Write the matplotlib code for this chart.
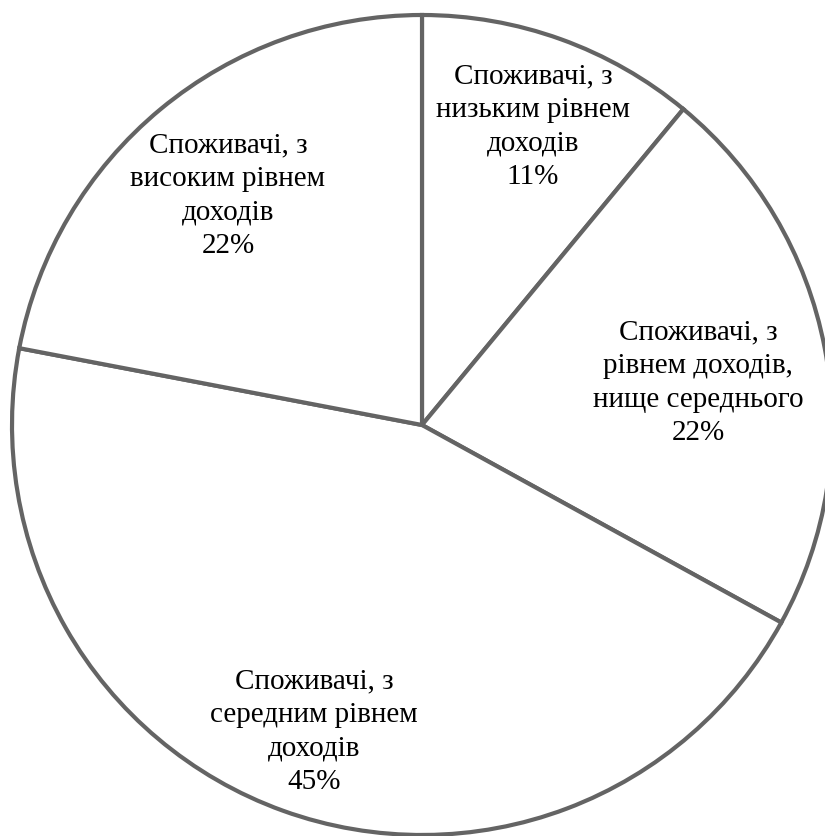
import matplotlib.pyplot as plt

labels = ['Споживачі, з\nнизьким рівнем\nдоходів',
          'Споживачі, з\nрівнем доходів,\nнище середнього',
          'Споживачі, з\nсередним рівнем\nдоходів',
          'Споживачі, з\nвисоким рівнем\nдоходів']
values = [11, 22, 45, 22]

# label centres in pixels (x, y from top)
label_px = [(533, 127), (698, 383), (314, 732), (228, 196)]

W, H = 825, 836
cx, cy, R = 422, 425, 410

fig = plt.figure(figsize=(W / 100, H / 100), dpi=100)
ax = fig.add_axes([0, 0, 1, 1])
ax.pie(values, startangle=90, counterclock=False, radius=1,
       colors=['white'] * 4,
       wedgeprops=dict(edgecolor='#646464', linewidth=3))

for lab, v, (px, py) in zip(labels, values, label_px):
    ax.text((px - cx) / R, (cy - py) / R, lab + '\n' + str(v) + '%',
            ha='center', va='center', fontsize=21, linespacing=1.38,
            family='Liberation Serif', color='black')

ax.set_xlim(-cx / R, (W - cx) / R)
ax.set_ylim((cy - H) / R, cy / R)
ax.set_aspect('auto')
ax.axis('off')
fig.savefig('out.png', dpi=100)
